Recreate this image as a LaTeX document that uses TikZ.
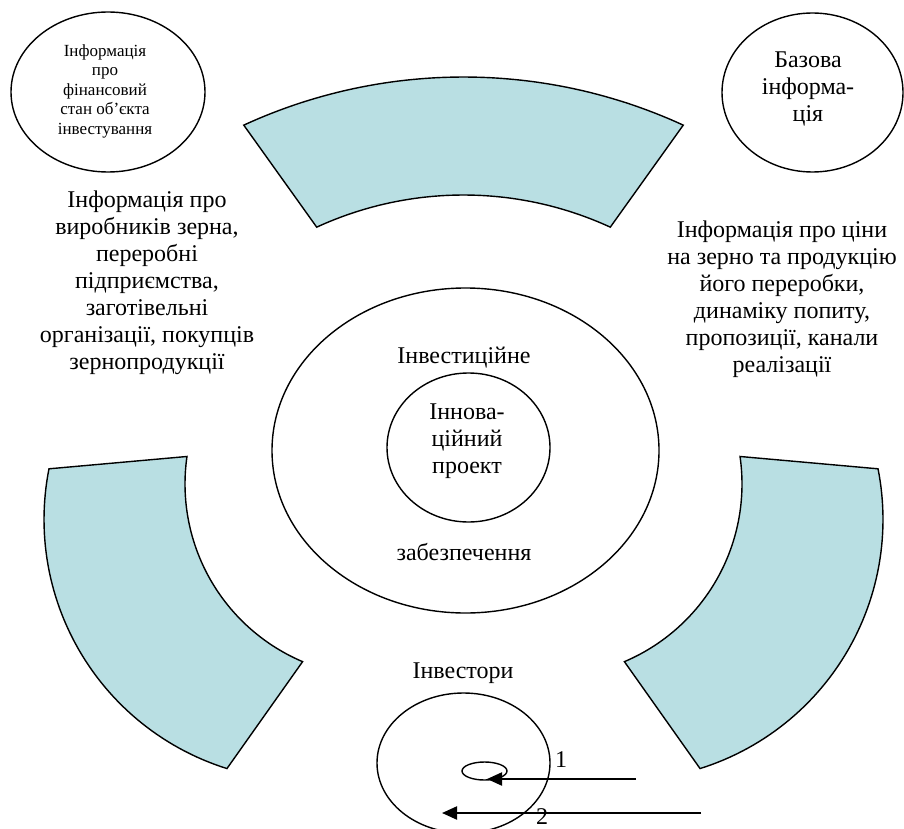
\documentclass[tikz,border=0pt]{standalone}
\usepackage{fontspec}
\setmainfont{Liberation Serif}
\usetikzlibrary{shapes.geometric,arrows.meta}
\definecolor{bandfill}{RGB}{185,223,227}
\begin{document}
\begin{tikzpicture}[x=1pt,y=-1pt,
  band/.style={fill=bandfill,draw=black,line width=1.4pt,line join=miter},
  oval/.style={draw,ellipse,line width=1.4pt,inner sep=0pt},
  txt/.style={align=center,font=\fontsize{24}{27}\selectfont,inner sep=0pt},
  smalltxt/.style={align=center,font=\fontsize{17}{19.5}\selectfont,inner sep=0pt},
  arr/.style={line width=2.2pt,-{Triangle[length=15pt,width=13pt]}}]
\useasboundingbox (0,0) rectangle (904,829);

% top band
\filldraw[band]
  plot[domain=-114.7:-65.3,samples=60,variable=\t] ({463.5+525.9*cos(\t)},{602.9+525.9*sin(\t)})
  -- plot[domain=-65.3:-114.7,samples=60,variable=\t] ({463.5+351.3*cos(\t)},{546.3+351.3*sin(\t)})
  -- cycle;
% left band
\filldraw[band]
  plot[domain=191.2:107.4,samples=60,variable=\t] ({305+261*cos(\t)},{519.5+261*sin(\t)})
  -- plot[domain=113:188.2,samples=60,variable=\t] ({378+193*cos(\t)},{484+193*sin(\t)})
  -- cycle;
% right band
\filldraw[band]
  plot[domain=-11.2:72.6,samples=60,variable=\t] ({622+261*cos(\t)},{519.5+261*sin(\t)})
  -- plot[domain=67:-8.2,samples=60,variable=\t] ({549+193*cos(\t)},{484+193*sin(\t)})
  -- cycle;

% top ellipses
\node[oval,minimum width=194pt,minimum height=160pt] (tl) at (108,92) {};
\node[smalltxt] (tlt) at (105,91) {Інформація\\про\\фінансовий\\стан об’єкта\\інвестування};
\node[oval,minimum width=181pt,minimum height=159pt] (tr) at (812.5,92.5) {};
\node[txt] (trt) at (808,89) {Базова\\інформа-\\ція};

% side texts
\node[txt] (lt) at (147,282.5) {Інформація про\\виробників зерна,\\переробні\\підприємства,\\заготівельні\\організації, покупців\\зернопродукції};
\node[txt] (rt) at (782,299) {Інформація про ціни\\на зерно та продукцію\\його переробки,\\динаміку попиту,\\пропозиції, канали\\реалізації};

% central
\node[oval,minimum width=387pt,minimum height=325pt] (big) at (465.5,450.5) {};
\node[oval,minimum width=163pt,minimum height=149pt] (inner) at (468.5,447.5) {};
\node[txt] (invt) at (464,358) {Інвестиційне};
\node[txt] (proj) at (467,441.5) {Іннова-\\ційний\\проект};
\node[txt] (zab) at (464,552) {забезпечення};

% investors
\node[txt] (inv) at (463,673) {Інвестори};
\node[oval,minimum width=173pt,minimum height=140pt] (bot) at (463.5,763) {};
\node[oval,minimum width=45pt,minimum height=18pt] (sm) at (484.5,771) {};
\coordinate (a1s) at (636,779);
\coordinate (a1e) at (487,779);
\coordinate (a2s) at (701,813);
\coordinate (a2e) at (442,813);
\draw[arr] (a1s) -- (a1e);
\draw[arr] (a2s) -- (a2e);
\node[txt] (l1) at (561,760) {1};
\node[txt] (l2) at (542,817) {2};
\end{tikzpicture}
\end{document}
